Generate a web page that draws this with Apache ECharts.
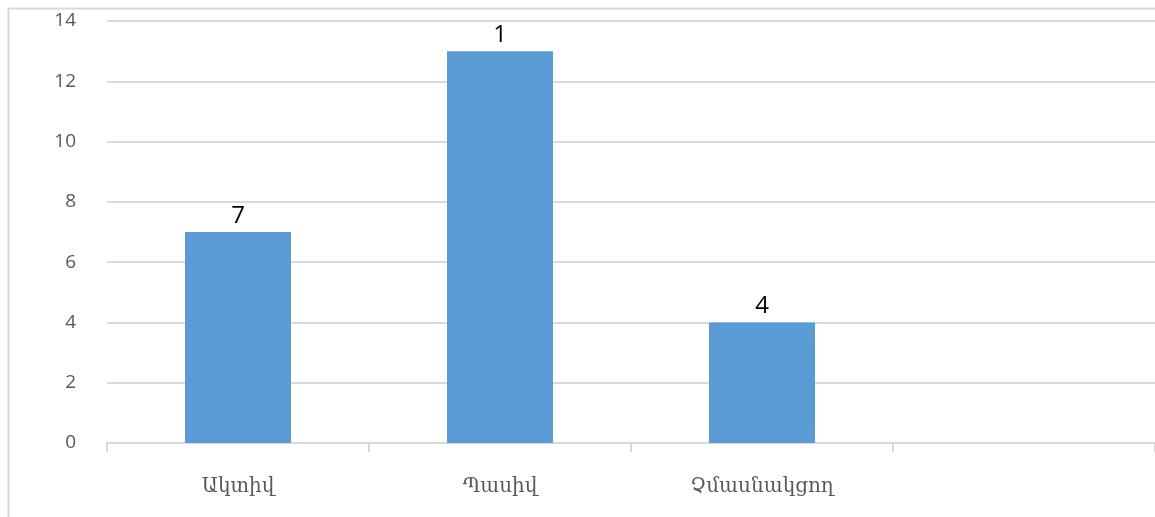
<!DOCTYPE html>
<html>
<head>
<meta charset="utf-8">
<script src="https://cdn.jsdelivr.net/npm/echarts@6/dist/echarts.min.js"></script>
<style>
html,body{margin:0;padding:0;background:#fff;}
#main{width:1155px;height:517px;}
</style>
</head>
<body>
<div id="main"></div>
<script>
const categories = ['Ակտիվ', 'Պասիվ', 'Չմասնակցող', ''];
const values = [7, 13, 4, null];
const barLabels = ['7', '1', '4', ''];
const yTicks = { min: 0, max: 14, interval: 2 };

const chart = echarts.init(document.getElementById('main'));
chart.setOption({
  animation: false,
  backgroundColor: '#fff',
  graphic: [{
    type: 'rect',
    left: 6, top: 6,
    shape: { width: 1170, height: 530 },
    style: { fill: 'none', stroke: '#d9d9d9', lineWidth: 2 },
    silent: true
  }],
  grid: { left: 107, right: 0, top: 21, bottom: 74, containLabel: false },
  xAxis: {
    type: 'category',
    data: categories,
    axisLine: { show: true, lineStyle: { color: '#d9d9d9', width: 2 } },
    axisTick: { show: true, length: 9, lineStyle: { color: '#d9d9d9', width: 2 } },
    axisLabel: { color: '#595959', fontSize: 20, fontFamily: 'DejaVu Serif', margin: 34 }
  },
  yAxis: {
    type: 'value',
    min: yTicks.min, max: yTicks.max, interval: yTicks.interval,
    axisLine: { show: false },
    axisTick: { show: false },
    axisLabel: { color: '#595959', fontSize: 19, fontFamily: 'Open Sans', margin: 31 },
    splitLine: { lineStyle: { color: '#d9d9d9', width: 2 } }
  },
  series: [{
    type: 'bar',
    data: values,
    barWidth: 106,
    itemStyle: { color: '#5b9bd5' },
    label: {
      show: true,
      position: 'top',
      distance: 4,
      color: '#000',
      fontSize: 24,
      fontFamily: 'Open Sans',
      formatter: p => barLabels[p.dataIndex]
    }
  }]
});
</script>
</body>
</html>
